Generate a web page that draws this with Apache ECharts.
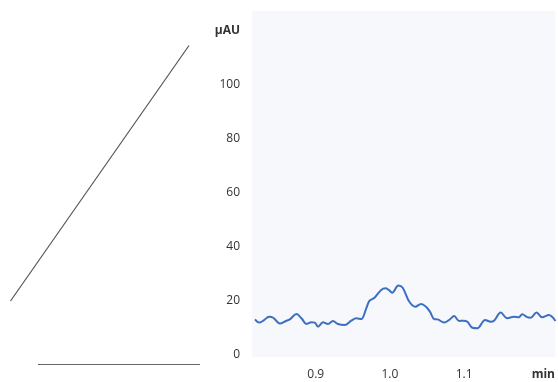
<!DOCTYPE html>
<html>
<head>
<meta charset="utf-8">
<script src="https://cdn.jsdelivr.net/npm/echarts@6/dist/echarts.min.js"></script>
<style>
  html, body { margin: 0; padding: 0; background: #ffffff; }
  #chart { width: 558px; height: 382px; }
</style>
</head>
<body>
<div id="chart"></div>
<script>
// Retention time (min) and detector response (µAU)
const times = [
  0.8181, 0.8239, 0.8293, 0.8373, 0.8427, 0.8517, 0.8597, 0.8651, 0.8741, 0.8808,
  0.8875, 0.8942, 0.8987, 0.9031, 0.9098, 0.9165, 0.9232, 0.9299, 0.9389, 0.9479,
  0.9546, 0.9613, 0.9681, 0.9725, 0.9792, 0.9882, 0.9940, 0.9984, 1.0030, 1.0114,
  1.0172, 1.0262, 1.0342, 1.0419, 1.0486, 1.0540, 1.0597, 1.0642, 1.0732, 1.0799,
  1.0866, 1.0933, 1.0991, 1.1044, 1.1111, 1.1179, 1.1282, 1.1358, 1.1403, 1.1493,
  1.1581, 1.1671, 1.1738, 1.1783, 1.1850, 1.1895, 1.1976, 1.2051, 1.2141, 1.2231
];
const signal = [
  13.2, 12.0, 12.7, 14.2, 13.8, 11.7, 12.6, 13.2, 15.2, 13.6,
  11.5, 12.1, 12.0, 10.5, 12.1, 11.5, 12.6, 11.5, 11.1, 12.7,
  13.6, 13.3, 17.3, 20.1, 21.2, 24.1, 24.7, 24.1, 23.1, 25.7,
  24.9, 19.7, 17.9, 18.9, 17.9, 16.0, 13.3, 13.2, 12.0, 13.0,
  14.4, 12.6, 12.7, 12.3, 10.1, 9.9, 13.0, 12.3, 12.7, 15.7,
  13.6, 14.2, 14.0, 15.1, 14.0, 13.8, 15.7, 14.0, 14.8, 12.6
];
const yTicks = [0, 20, 40, 60, 80, 100, 120];
const xTicks = [0.9, 1.0, 1.1, 1.2];
const yUnit = 'μAU';
const xUnit = 'min';

const chart = echarts.init(document.getElementById('chart'), null, { renderer: 'canvas' });

const labelFont = { fontFamily: 'Open Sans', fontSize: 12, color: '#333333' };

chart.setOption({
  animation: false,
  backgroundColor: '#ffffff',
  grid: {
    left: 252, right: 0, top: 11, bottom: 25,
    show: true, backgroundColor: '#f7f8fc', borderWidth: 0
  },
  xAxis: {
    type: 'value',
    min: 0.8141, max: 1.2228,
    axisLine: { show: false },
    axisTick: { show: false },
    splitLine: { show: false },
    axisLabel: {
      customValues: xTicks,
      margin: 12,
      ...labelFont,
      formatter: v => (Math.abs(v - xTicks[xTicks.length - 1]) < 1e-6 ? '{u|' + xUnit + '}' : v.toFixed(1)),
      rich: { u: { fontFamily: 'Open Sans', fontSize: 12, fontWeight: 'bold', color: '#333333', padding: [0, 0, 0, 10] } }
    }
  },
  yAxis: {
    type: 'value',
    min: -0.74, max: 127.4,
    axisLine: { show: false },
    axisTick: { show: false },
    splitLine: { show: false },
    axisLabel: {
      customValues: yTicks,
      margin: 12,
      ...labelFont,
      formatter: v => (v === yTicks[yTicks.length - 1] ? '{u|' + yUnit + '}' : String(v)),
      rich: { u: { fontFamily: 'Open Sans', fontSize: 12, fontWeight: 'bold', color: '#333333' } }
    }
  },
  series: [{
    type: 'line',
    data: times.map((t, i) => [t, signal[i]]),
    showSymbol: false,
    smooth: 0.35,
    lineStyle: { color: '#3d6fc1', width: 2 },
    clip: true
  }],
  graphic: [
    {
      type: 'line',
      shape: { x1: 10.5, y1: 301, x2: 189, y2: 45.5 },
      style: { stroke: '#555555', lineWidth: 1.2 }
    },
    {
      type: 'line',
      shape: { x1: 38, y1: 364.5, x2: 200, y2: 364.5 },
      style: { stroke: '#666666', lineWidth: 1.2 }
    }
  ]
});
</script>
</body>
</html>
